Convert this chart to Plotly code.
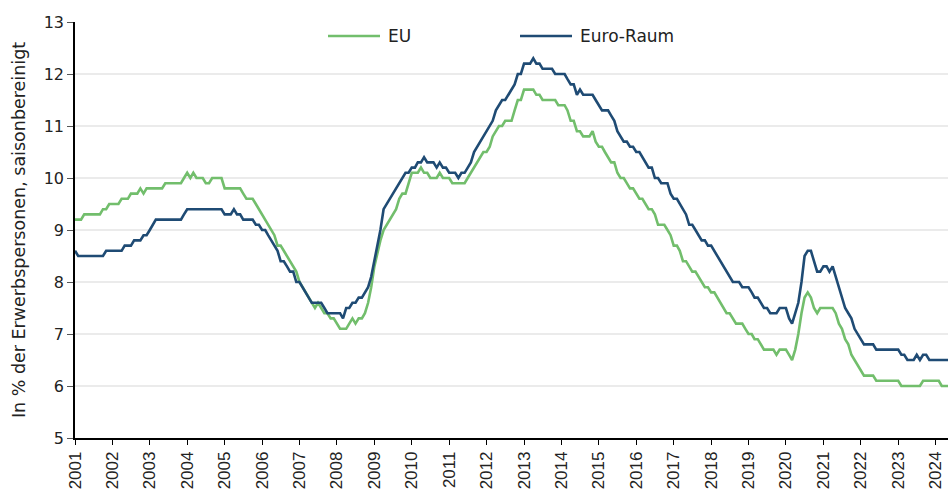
import pandas as pd
import plotly.graph_objects as go

# Monthly unemployment rate, % of labour force, seasonally adjusted (Jan 2001 - May 2024)
eu_values = [
    9.2, 9.2, 9.2, 9.3, 9.3, 9.3, 9.3, 9.3, 9.3, 9.4, 9.4, 9.5,          # 2001
    9.5, 9.5, 9.5, 9.6, 9.6, 9.6, 9.7, 9.7, 9.7, 9.8, 9.7, 9.8,          # 2002
    9.8, 9.8, 9.8, 9.8, 9.8, 9.9, 9.9, 9.9, 9.9, 9.9, 9.9, 10.0,         # 2003
    10.1, 10.0, 10.1, 10.0, 10.0, 10.0, 9.9, 9.9, 10.0, 10.0, 10.0, 10.0,  # 2004
    9.8, 9.8, 9.8, 9.8, 9.8, 9.8, 9.7, 9.6, 9.6, 9.6, 9.5, 9.4,          # 2005
    9.3, 9.2, 9.1, 9.0, 8.9, 8.7, 8.7, 8.6, 8.5, 8.4, 8.3, 8.2,          # 2006
    8.0, 7.9, 7.8, 7.7, 7.6, 7.5, 7.6, 7.5, 7.4, 7.4, 7.3, 7.3,          # 2007
    7.2, 7.1, 7.1, 7.1, 7.2, 7.3, 7.2, 7.3, 7.3, 7.4, 7.6, 7.9,          # 2008
    8.3, 8.6, 8.8, 9.0, 9.1, 9.2, 9.3, 9.4, 9.6, 9.7, 9.7, 9.9,          # 2009
    10.1, 10.1, 10.1, 10.2, 10.1, 10.1, 10.0, 10.0, 10.0, 10.1, 10.0, 10.0,  # 2010
    10.0, 9.9, 9.9, 9.9, 9.9, 9.9, 10.0, 10.1, 10.2, 10.3, 10.4, 10.5,   # 2011
    10.5, 10.6, 10.8, 10.9, 11.0, 11.0, 11.1, 11.1, 11.1, 11.3, 11.5, 11.5,  # 2012
    11.7, 11.7, 11.7, 11.7, 11.6, 11.6, 11.5, 11.5, 11.5, 11.5, 11.5, 11.4,  # 2013
    11.4, 11.4, 11.3, 11.1, 11.1, 10.9, 10.9, 10.8, 10.8, 10.8, 10.9, 10.7,  # 2014
    10.6, 10.6, 10.5, 10.4, 10.3, 10.3, 10.1, 10.0, 10.0, 9.9, 9.8, 9.8,  # 2015
    9.7, 9.6, 9.6, 9.5, 9.4, 9.4, 9.3, 9.1, 9.1, 9.1, 9.0, 8.9,          # 2016
    8.7, 8.7, 8.6, 8.4, 8.4, 8.3, 8.2, 8.2, 8.1, 8.0, 7.9, 7.9,          # 2017
    7.8, 7.8, 7.7, 7.6, 7.5, 7.4, 7.4, 7.3, 7.2, 7.2, 7.2, 7.1,          # 2018
    7.0, 7.0, 6.9, 6.9, 6.8, 6.7, 6.7, 6.7, 6.7, 6.6, 6.7, 6.7,          # 2019
    6.7, 6.6, 6.5, 6.7, 7.0, 7.4, 7.7, 7.8, 7.7, 7.5, 7.4, 7.5,          # 2020
    7.5, 7.5, 7.5, 7.5, 7.4, 7.2, 7.1, 6.9, 6.8, 6.6, 6.5, 6.4,          # 2021
    6.3, 6.2, 6.2, 6.2, 6.2, 6.1, 6.1, 6.1, 6.1, 6.1, 6.1, 6.1,          # 2022
    6.1, 6.0, 6.0, 6.0, 6.0, 6.0, 6.0, 6.0, 6.1, 6.1, 6.1, 6.1,          # 2023
    6.1, 6.1, 6.0, 6.0, 6.0,                                             # 2024
]

ea_values = [
    8.6, 8.5, 8.5, 8.5, 8.5, 8.5, 8.5, 8.5, 8.5, 8.5, 8.6, 8.6,          # 2001
    8.6, 8.6, 8.6, 8.6, 8.7, 8.7, 8.7, 8.8, 8.8, 8.8, 8.9, 8.9,          # 2002
    9.0, 9.1, 9.2, 9.2, 9.2, 9.2, 9.2, 9.2, 9.2, 9.2, 9.2, 9.3,          # 2003
    9.4, 9.4, 9.4, 9.4, 9.4, 9.4, 9.4, 9.4, 9.4, 9.4, 9.4, 9.4,          # 2004
    9.3, 9.3, 9.3, 9.4, 9.3, 9.3, 9.2, 9.2, 9.2, 9.2, 9.1, 9.1,          # 2005
    9.0, 9.0, 8.9, 8.8, 8.7, 8.6, 8.4, 8.4, 8.3, 8.2, 8.2, 8.0,          # 2006
    8.0, 7.9, 7.8, 7.7, 7.6, 7.6, 7.6, 7.6, 7.5, 7.4, 7.4, 7.4,          # 2007
    7.4, 7.4, 7.3, 7.5, 7.5, 7.6, 7.6, 7.7, 7.7, 7.8, 7.9, 8.1,          # 2008
    8.4, 8.7, 9.0, 9.4, 9.5, 9.6, 9.7, 9.8, 9.9, 10.0, 10.1, 10.1,       # 2009
    10.2, 10.2, 10.3, 10.3, 10.4, 10.3, 10.3, 10.3, 10.2, 10.3, 10.2, 10.2,  # 2010
    10.1, 10.1, 10.1, 10.0, 10.1, 10.1, 10.2, 10.3, 10.5, 10.6, 10.7, 10.8,  # 2011
    10.9, 11.0, 11.1, 11.3, 11.4, 11.5, 11.5, 11.6, 11.7, 11.8, 12.0, 12.0,  # 2012
    12.2, 12.2, 12.2, 12.3, 12.2, 12.2, 12.1, 12.1, 12.1, 12.1, 12.0, 12.0,  # 2013
    12.0, 12.0, 11.9, 11.8, 11.8, 11.6, 11.7, 11.6, 11.6, 11.6, 11.6, 11.5,  # 2014
    11.4, 11.3, 11.3, 11.3, 11.2, 11.1, 10.9, 10.8, 10.7, 10.7, 10.6, 10.6,  # 2015
    10.5, 10.5, 10.4, 10.3, 10.2, 10.2, 10.0, 10.0, 9.9, 9.9, 9.9, 9.7,  # 2016
    9.6, 9.6, 9.5, 9.4, 9.3, 9.1, 9.1, 9.0, 8.9, 8.8, 8.8, 8.7,          # 2017
    8.7, 8.6, 8.5, 8.4, 8.3, 8.2, 8.1, 8.0, 8.0, 8.0, 7.9, 7.9,          # 2018
    7.9, 7.8, 7.7, 7.7, 7.6, 7.5, 7.5, 7.4, 7.4, 7.4, 7.5, 7.5,          # 2019
    7.5, 7.3, 7.2, 7.4, 7.6, 8.0, 8.5, 8.6, 8.6, 8.4, 8.2, 8.2,          # 2020
    8.3, 8.3, 8.2, 8.3, 8.1, 7.9, 7.7, 7.5, 7.4, 7.3, 7.1, 7.0,          # 2021
    6.9, 6.8, 6.8, 6.8, 6.8, 6.7, 6.7, 6.7, 6.7, 6.7, 6.7, 6.7,          # 2022
    6.7, 6.6, 6.6, 6.5, 6.5, 6.5, 6.6, 6.5, 6.6, 6.6, 6.5, 6.5,          # 2023
    6.5, 6.5, 6.5, 6.5, 6.5,                                             # 2024
]

series_names = ["EU", "Euro-Raum"]
y_ticks = [5, 6, 7, 8, 9, 10, 11, 12, 13]
year_ticks = [str(y) for y in range(2001, 2025)]
y_title = "In % der Erwerbspersonen, saisonbereinigt"

months = pd.date_range("2001-01-01", periods=len(ea_values), freq="MS")

GREEN = "#72BE6C"
BLUE = "#1F4B74"
colors = [GREEN, BLUE]

W, H = 948, 493
ML, MR, MT, MB = 75, 0, 22, 55
PW, PH = W - ML - MR, H - MT - MB


def px_x(p):
    return (p - ML) / PW


def px_y(p):
    return (H - MB - p) / PH


fig = go.Figure()
for name, vals, col in zip(series_names, [eu_values, ea_values], colors):
    fig.add_trace(go.Scatter(x=months, y=vals, name=name, mode="lines",
                             line=dict(color=col, width=2.6), showlegend=False))

# Manual legend (long line samples, like the original)
legend_items = [(328, 380, 386), (520, 572, 578)]
legend_y = 36
for (x0, x1, xt), name, col in zip(legend_items, series_names, colors):
    fig.add_shape(type="line", xref="paper", yref="paper",
                  x0=px_x(x0), x1=px_x(x1), y0=px_y(legend_y), y1=px_y(legend_y),
                  line=dict(color=col, width=2.6))
    fig.add_annotation(xref="paper", yref="paper", x=px_x(xt), y=px_y(legend_y),
                       text=name, showarrow=False, xanchor="left", yanchor="middle",
                       font=dict(family="DejaVu Sans", size=17, color="#222222"))

fig.update_layout(
    width=W, height=H,
    margin=dict(l=ML, r=MR, t=MT, b=MB, autoexpand=False),
    paper_bgcolor="white", plot_bgcolor="white",
    font=dict(family="DejaVu Sans", size=16, color="#222222"),
    showlegend=False,
)

fig.update_xaxes(
    type="date",
    range=[months[0], months[-1]],
    tickvals=[pd.Timestamp(f"{y}-01-01") for y in year_ticks],
    ticktext=year_ticks,
    tickangle=-90,
    tickfont=dict(family="Liberation Sans", size=17, color="#222222"),
    ticks="outside", ticklen=5, tickcolor="#000000", tickwidth=1,
    showline=True, linecolor="#000000", linewidth=1.5,
    showgrid=False, zeroline=False, automargin=False,
)
fig.update_yaxes(
    range=[5, 13],
    tickvals=y_ticks,
    tickfont=dict(family="DejaVu Sans", size=16, color="#222222"),
    ticks="outside", ticklen=6, tickcolor="#555555", tickwidth=1,
    showline=True, linecolor="#000000", linewidth=1.5,
    showgrid=True, gridcolor="#EBEBEB", gridwidth=1.5,
    zeroline=False, automargin=False,
    title=dict(text=y_title, font=dict(family="DejaVu Sans", size=17.5, color="#222222"), standoff=14),
)

fig.write_html(
    "out.html",
    config={"displayModeBar": False},
    post_script="document.body.style.margin='0';document.body.style.overflow='hidden';",
)
